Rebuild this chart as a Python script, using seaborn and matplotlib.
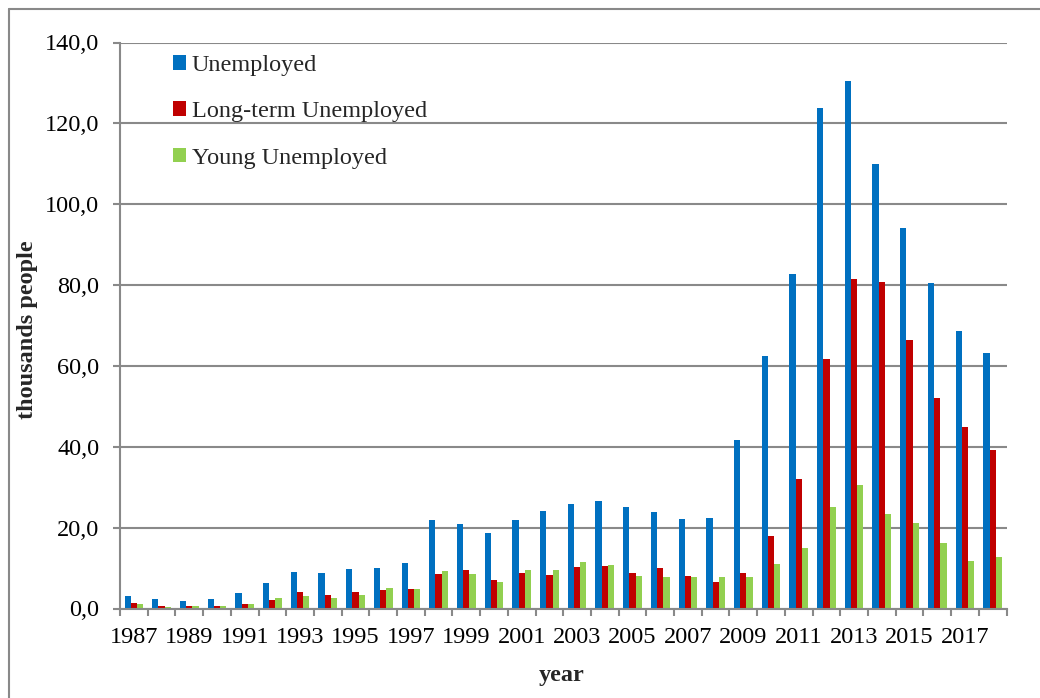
import matplotlib
matplotlib.use("Agg")
import matplotlib.pyplot as plt
from matplotlib.ticker import FuncFormatter, FixedLocator
from matplotlib.lines import Line2D
import seaborn as sns
import pandas as pd
import numpy as np

years = list(range(1987, 2019))
unemployed = [3.1, 2.3, 1.8, 2.3, 3.8, 6.4, 9.0, 8.7, 9.7, 10.0, 11.2, 21.8,
              20.9, 18.7, 21.8, 24.1, 25.8, 26.5, 25.0, 23.8, 22.1, 22.3,
              41.6, 62.5, 82.7, 123.9, 130.4, 109.9, 94.0, 80.6, 68.7, 63.2]
long_term = [1.4, 0.7, 0.7, 0.6, 1.2, 2.0, 4.0, 3.3, 4.1, 4.6, 4.9, 8.5,
             9.6, 7.1, 8.7, 8.3, 10.2, 10.4, 8.9, 10.1, 8.0, 6.5,
             8.7, 17.9, 32.0, 61.8, 81.4, 80.7, 66.3, 52.1, 45.0, 39.1]
young = [1.2, 0.4, 0.7, 0.7, 1.2, 2.6, 3.2, 2.6, 3.3, 5.1, 4.8, 9.3,
         8.5, 6.5, 9.6, 9.6, 11.5, 10.8, 8.0, 7.8, 7.7, 7.7,
         7.8, 11.1, 15.0, 25.0, 30.6, 23.4, 21.1, 16.2, 11.8, 12.7]
series_names = ["Unemployed", "Long-term Unemployed", "Young Unemployed"]
colors = ["#0070C0", "#C00000", "#92D050"]

df = pd.DataFrame({
    "year": [str(y) for y in years] * 3,
    "value": unemployed + long_term + young,
    "series": [series_names[0]] * len(years) + [series_names[1]] * len(years)
              + [series_names[2]] * len(years),
})

sns.set_theme(style="white")
plt.rcParams["font.family"] = ["Liberation Serif", "DejaVu Serif"]
FS = 17.5

W, H = 1040, 698
fig = plt.figure(figsize=(W / 100, H / 100), dpi=100)
ax = fig.add_axes([120 / W, 1 - 608.5 / H, (1006.5 - 120) / W, (608.5 - 42.5) / H])

sns.barplot(data=df, x="year", y="value", hue="series", hue_order=series_names,
            palette=colors, width=0.675, saturation=1, linewidth=0, ax=ax,
            legend=True)

grid_c = "#898989"
ax.set_ylim(0, 140)
ax.set_xlim(-0.5, len(years) - 0.5)
ax.set_yticks(np.arange(0, 141, 20))
ax.yaxis.set_major_formatter(FuncFormatter(lambda v, p: f"{v:.1f}".replace(".", ",")))
ax.set_xticks(range(0, len(years), 2))
ax.set_xticklabels([str(y) for y in years[::2]])
ax.xaxis.set_minor_locator(FixedLocator(np.arange(-0.5, len(years), 1)))
ax.grid(axis="y", color=grid_c, linewidth=1.5)
ax.set_axisbelow(True)
for s in ["top", "right"]:
    ax.spines[s].set_visible(False)
for s in ["left", "bottom"]:
    ax.spines[s].set_color(grid_c)
    ax.spines[s].set_linewidth(1.5)

ax.tick_params(axis="y", which="major", direction="out", length=5, width=1.5,
               color=grid_c, labelsize=FS, pad=10, left=True, labelcolor="black")
ax.tick_params(axis="x", which="major", length=0, labelsize=FS, pad=13,
               labelcolor="black")
ax.tick_params(axis="x", which="minor", direction="out", length=5, width=1.5,
               color=grid_c, bottom=True)
ax.set_xlabel("")
ax.set_ylabel("")

fig.text(562 / W, 1 - 675 / H, "year", ha="center", va="center",
         fontsize=FS, fontweight="bold")
fig.text(28 / W, 1 - 330 / H, "thousands people", ha="center", va="center",
         rotation=90, fontsize=FS, fontweight="bold")

handles, labels = ax.get_legend_handles_labels()
ax.legend(handles, labels, loc="upper left",
          bbox_to_anchor=(173 / W, 1 - 55 / H), bbox_transform=fig.transFigure,
          frameon=False, fontsize=FS, handlelength=0.55, handleheight=0.55,
          handletextpad=0.22, labelspacing=1.04, borderpad=0, borderaxespad=0)

# chart-area border (top and left)
fig.add_artist(Line2D([9 / W, 1], [1 - 8.5 / H, 1 - 8.5 / H], color=grid_c,
                      linewidth=1.5, transform=fig.transFigure))
fig.add_artist(Line2D([9 / W, 9 / W], [0, 1 - 8.5 / H], color=grid_c,
                      linewidth=1.5, transform=fig.transFigure))

fig.savefig("out.png", dpi=100)
